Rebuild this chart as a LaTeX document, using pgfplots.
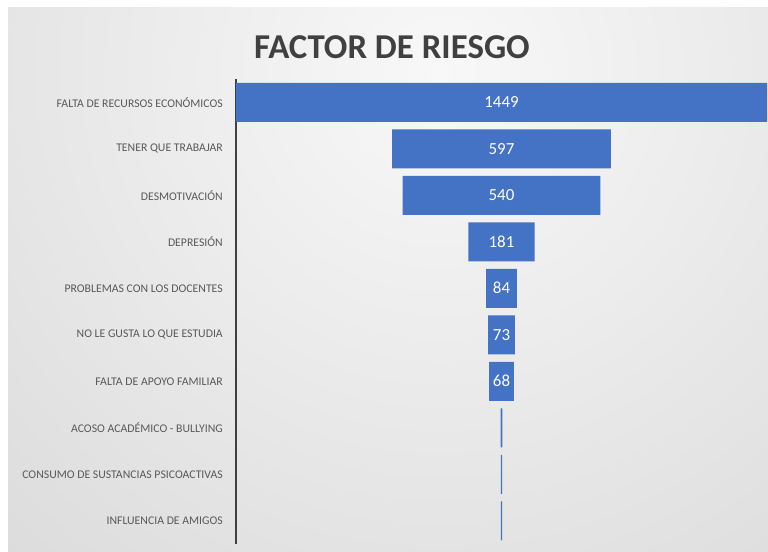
\documentclass[border=0pt]{standalone}
\usepackage{pgfplots}
\pgfplotsset{compat=1.18}
\usepackage{pgfplotstable}
\usepackage{fontspec}
\setmainfont{Carlito}
\definecolor{barblue}{HTML}{4472C4}
\definecolor{txt}{HTML}{595959}
\definecolor{ttl}{HTML}{404040}
\definecolor{bgin}{HTML}{F8F8F8}
\definecolor{bgout}{HTML}{C2C2C2}
\pgfplotstableread{
idx v
0 1449
1 597
2 540
3 181
4 84
5 73
6 68
7 5
8 3
9 3
}\datatab
\begin{document}
\begin{tikzpicture}
\useasboundingbox (0,0) rectangle (768bp,552bp);
\fill[white] (0,0) rectangle (768bp,552bp);
\begin{scope}
\clip (8bp,0) rectangle (768bp,544bp);
\shade[inner color=bgin, outer color=bgout] (440bp,480bp) circle (1250bp);
\end{scope}
\node[font=\bfseries\fontsize{35}{40}\selectfont, color=ttl] at (392bp,505bp) {FACTOR DE RIESGO};
\begin{axis}[
  at={(236bp,8bp)}, anchor=south west,
  scale only axis, width=531bp, height=465bp,
  xbar stacked, bar width=39bp,
  xmin=0, xmax=1449, ymin=-0.5, ymax=9.5, y dir=reverse,
  hide x axis, axis y line*=left,
  y axis line style={-, color=ttl, line width=1.6bp},
  ytick={0,...,9}, major tick length=0pt,
  yticklabels={FALTA DE RECURSOS ECONÓMICOS, TENER QUE TRABAJAR, DESMOTIVACIÓN, DEPRESIÓN, PROBLEMAS CON LOS DOCENTES, NO LE GUSTA LO QUE ESTUDIA, FALTA DE APOYO FAMILIAR, ACOSO ACADÉMICO - BULLYING, CONSUMO DE SUSTANCIAS PSICOACTIVAS, INFLUENCIA DE AMIGOS},
  yticklabel style={font=\fontsize{11.8}{13}\selectfont, color=txt, inner sep=0pt, xshift=-13bp},
  clip=false]
\addplot[draw=none, fill=none] table[y=idx, x expr={(1449-\thisrow{v})/2}] {\datatab};
\addplot[draw=none, fill=barblue] table[y=idx, x=v] {\datatab};
\end{axis}
\begin{axis}[
  at={(236bp,8bp)}, anchor=south west,
  scale only axis, width=531bp, height=465bp,
  xmin=-724.5, xmax=724.5, ymin=-0.5, ymax=9.5, y dir=reverse,
  hide axis, clip=false,
  /pgf/number format/assume math mode=true]
\addplot[only marks, mark=none, point meta=explicit,
  nodes near coords={\pgfmathprintnumber[1000 sep={}]{\pgfplotspointmeta}},
  every node near coord/.style={anchor=center, font=\fontsize{17}{19}\selectfont, color=white},
  restrict expr to domain={\thisrow{v}}{10:100000}]
  table[y=idx, x expr=0, meta=v] {\datatab};
\end{axis}
\end{tikzpicture}
\end{document}
